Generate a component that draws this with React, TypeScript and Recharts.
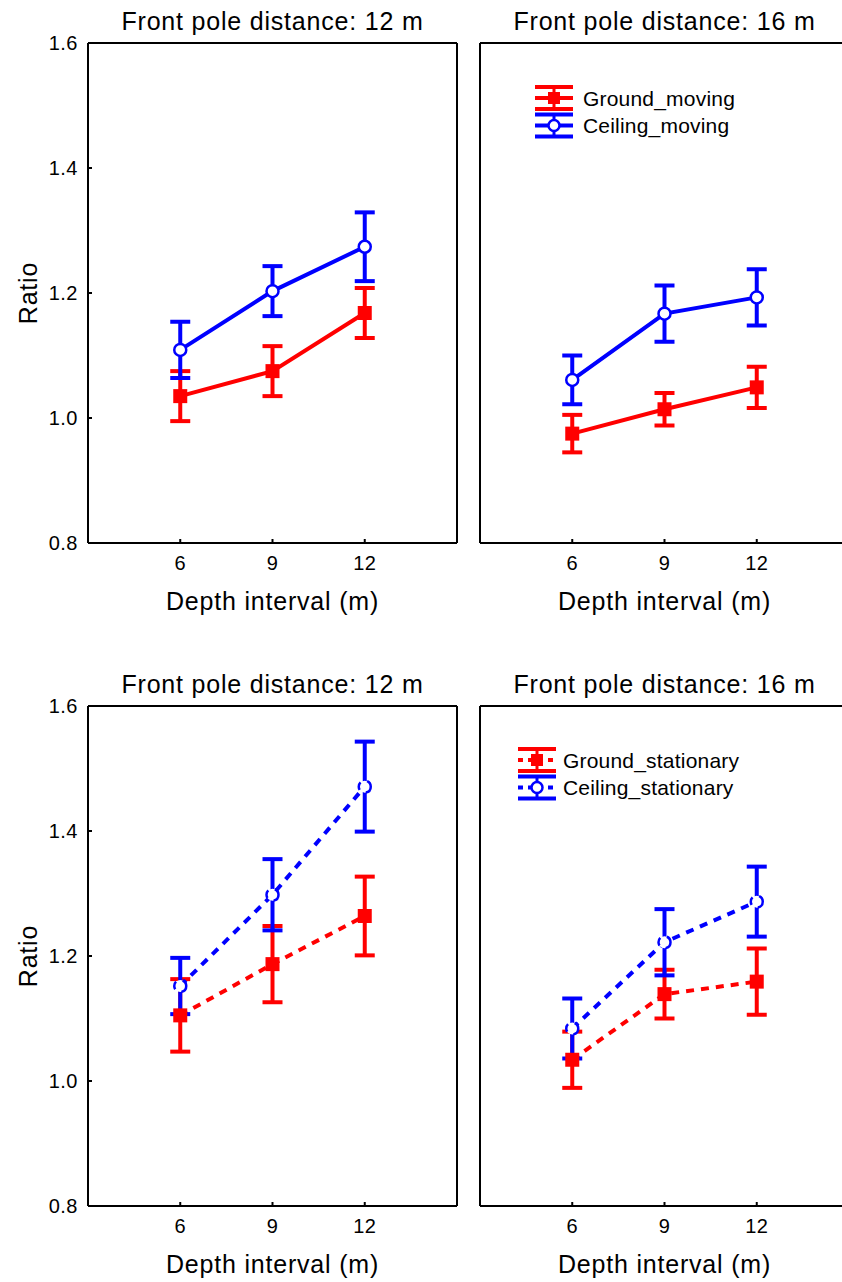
import React from "react";
import { ComposedChart, Line, XAxis, YAxis, ErrorBar, Legend } from "recharts";

const RED = "#ff0000";
const BLUE = "#0000ff";
const FONT = '"Liberation Sans", Arial, Helvetica, sans-serif';

// depth intervals (m)
const depths = [6, 9, 12];

// moving, front pole 12 m
const groundMoving12 = [1.035, 1.075, 1.168];
const groundMoving12Err = [0.04, 0.04, 0.04];
const ceilingMoving12 = [1.109, 1.203, 1.274];
const ceilingMoving12Err = [0.045, 0.04, 0.055];

// moving, front pole 16 m
const groundMoving16 = [0.975, 1.014, 1.049];
const groundMoving16Err = [0.03, 0.026, 0.033];
const ceilingMoving16 = [1.061, 1.167, 1.193];
const ceilingMoving16Err = [0.039, 0.045, 0.045];

// stationary, front pole 12 m
const groundStationary12 = [1.105, 1.187, 1.264];
const groundStationary12Err = [0.058, 0.061, 0.063];
const ceilingStationary12 = [1.152, 1.298, 1.471];
const ceilingStationary12Err = [0.045, 0.057, 0.072];

// stationary, front pole 16 m
const groundStationary16 = [1.034, 1.139, 1.159];
const groundStationary16Err = [0.045, 0.039, 0.053];
const ceilingStationary16 = [1.084, 1.222, 1.287];
const ceilingStationary16Err = [0.048, 0.053, 0.056];

const xTicks = [6, 9, 12];
const yTicks = [0.8, 1.0, 1.2, 1.4, 1.6];
const frameTicks = [1, 2, 3, 4, 5, 6, 7, 8];

const buildRows = (g: number[], ge: number[], c: number[], ce: number[]) =>
  depths.map((d, i) => ({ depth: d, ground: g[i], groundErr: ge[i], ceiling: c[i], ceilingErr: ce[i] }));

interface PanelDef {
  title: string;
  left: number;
  top: number;
  rows: ReturnType<typeof buildRows>;
  dashed: boolean;
  legend: boolean;
  labels: boolean;
  groundName: string;
  ceilingName: string;
}

const panels: PanelDef[] = [
  {
    title: "Front pole distance: 12 m", left: 88, top: 43,
    rows: buildRows(groundMoving12, groundMoving12Err, ceilingMoving12, ceilingMoving12Err),
    dashed: false, legend: false, labels: true, groundName: "Ground_moving", ceilingName: "Ceiling_moving",
  },
  {
    title: "Front pole distance: 16 m", left: 480, top: 43,
    rows: buildRows(groundMoving16, groundMoving16Err, ceilingMoving16, ceilingMoving16Err),
    dashed: false, legend: true, labels: false, groundName: "Ground_moving", ceilingName: "Ceiling_moving",
  },
  {
    title: "Front pole distance: 12 m", left: 88, top: 706,
    rows: buildRows(groundStationary12, groundStationary12Err, ceilingStationary12, ceilingStationary12Err),
    dashed: true, legend: false, labels: true, groundName: "Ground_stationary", ceilingName: "Ceiling_stationary",
  },
  {
    title: "Front pole distance: 16 m", left: 480, top: 706,
    rows: buildRows(groundStationary16, groundStationary16Err, ceilingStationary16, ceilingStationary16Err),
    dashed: true, legend: true, labels: false, groundName: "Ground_stationary", ceilingName: "Ceiling_stationary",
  },
];

const PLOT_W = 369;
const PLOT_H = 500;
const frameLine = { stroke: "#000", strokeWidth: 2 };
const tickFont = { fontSize: 20, fill: "#000", fontFamily: FONT, letterSpacing: 0.5 };

const SquareDot = (props: any) => {
  const { cx, cy, index } = props;
  if (cx == null || cy == null) return <g key={`sq-${index}`} />;
  return <rect key={`sq-${index}`} x={cx - 7} y={cy - 7} width={14} height={14} fill={RED} />;
};

// legend keeps the series order: ground first, ceiling second
function makeLegend(dashed: boolean, order: string[]) {
  return (props: any) => {
    const items = [...(props.payload || [])].sort(
      (a: any, b: any) => order.indexOf(String(a.value)) - order.indexOf(String(b.value))
    );
    return (
      <svg width={300} height={60} style={{ display: "block", overflow: "visible" }}>
        {items.map((entry: any, i: number) => {
          const cy = 15 + i * 27.5;
          const color = entry.color;
          const square = String(entry.value).startsWith("Ground");
          return (
            <g key={i}>
              <line x1={0} x2={38} y1={cy} y2={cy} stroke={color} strokeWidth={4} strokeDasharray={dashed ? "5 5" : undefined} />
              <line x1={19} x2={19} y1={cy - 11} y2={cy + 11} stroke={color} strokeWidth={3} />
              <line x1={0} x2={38} y1={cy - 11} y2={cy - 11} stroke={color} strokeWidth={4} />
              <line x1={0} x2={38} y1={cy + 11} y2={cy + 11} stroke={color} strokeWidth={4} />
              {square ? (
                <rect x={13} y={cy - 6} width={12} height={12} fill={color} />
              ) : (
                <circle cx={19} cy={cy} r={5.5} fill="#fff" stroke={color} strokeWidth={2.5} />
              )}
              <text x={dashed ? 45 : 48} y={cy + 7.5} fontSize={21} fontFamily={FONT} fill="#000" letterSpacing={0.2}>
                {entry.value}
              </text>
            </g>
          );
        })}
      </svg>
    );
  };
}

function Panel({ p }: { p: PanelDef }) {
  const dash = p.dashed ? "8 7" : undefined;
  const chartLeft = p.left - 88;
  const chartTop = p.top - 43;
  return (
    <div style={{ position: "absolute", left: chartLeft, top: chartTop }}>
      <ComposedChart
        width={470}
        height={590}
        data={p.rows}
        margin={{ top: 33, right: 470 - 88 - PLOT_W - 10, bottom: 590 - 43 - PLOT_H - 40, left: 28 }}
      >
        <XAxis
          xAxisId="b"
          dataKey="depth"
          type="number"
          domain={[3, 15]}
          ticks={xTicks}
          interval={0}
          orientation="bottom"
          height={40}
          axisLine={frameLine}
          tickLine={frameLine}
          tickSize={-4}
          tickMargin={17}
          tick={tickFont}
        />
        <XAxis
          xAxisId="t"
          dataKey="depth"
          type="number"
          domain={[3, 15]}
          ticks={xTicks}
          interval={0}
          orientation="top"
          height={10}
          axisLine={frameLine}
          tickLine={frameLine}
          tickSize={-4}
          tick={false}
        />
        <YAxis
          yAxisId="l"
          type="number"
          domain={[0.8, 1.6]}
          ticks={yTicks}
          interval={0}
          width={60}
          axisLine={frameLine}
          tickLine={frameLine}
          tickSize={-4}
          tickMargin={14}
          tick={p.labels ? tickFont : false}
          tickFormatter={(v) => Number(v).toFixed(1)}
        />
        <YAxis
          yAxisId="r"
          orientation="right"
          type="number"
          domain={[0, 9]}
          ticks={frameTicks}
          interval={0}
          width={10}
          axisLine={frameLine}
          tickLine={frameLine}
          tickSize={-4}
          tick={false}
        />
        <Line
          xAxisId="b"
          yAxisId="l"
          type="linear"
          dataKey="ground"
          name={p.groundName}
          stroke={RED}
          strokeWidth={4}
          strokeDasharray={dash}
          dot={SquareDot}
          activeDot={false}
          isAnimationActive={false}
        >
          <ErrorBar dataKey="groundErr" width={10} strokeWidth={4} stroke={RED} direction="y" isAnimationActive={false} />
        </Line>
        <Line
          xAxisId="b"
          yAxisId="l"
          type="linear"
          dataKey="ceiling"
          name={p.ceilingName}
          stroke={BLUE}
          strokeWidth={4}
          strokeDasharray={dash}
          dot={{ r: 6, fill: "#fff", stroke: BLUE, strokeWidth: 2.5 }}
          activeDot={false}
          isAnimationActive={false}
        >
          <ErrorBar dataKey="ceilingErr" width={10} strokeWidth={4} stroke={BLUE} direction="y" isAnimationActive={false} />
        </Line>
        {p.legend && (
          <Legend
            layout="horizontal"
            verticalAlign="middle"
            align="center"
            content={makeLegend(p.dashed, [p.groundName, p.ceilingName])}
            wrapperStyle={
              p.dashed
                ? { top: 760 - 663 - 15, left: 518 - 392, width: 300, height: 60 }
                : { top: 98 - 15, left: 535 - 392, width: 300, height: 60 }
            }
          />
        )}
      </ComposedChart>
    </div>
  );
}

const textStyle = { fontFamily: FONT, fontSize: 25, fill: "#000", letterSpacing: 0.8 };

export default function App() {
  return (
    <div
      style={{
        position: "absolute",
        left: 0,
        top: 0,
        width: 842,
        height: 1282,
        overflow: "hidden",
        background: "#fff",
        fontFamily: FONT,
      }}
    >
      {panels.map((p, i) => (
        <Panel key={i} p={p} />
      ))}
      <svg width={842} height={1282} style={{ position: "absolute", left: 0, top: 0, pointerEvents: "none" }}>
        {panels.map((p, i) => {
          const cx = p.left + PLOT_W / 2;
          return (
            <g key={i}>
              <text x={cx} y={p.top - 13} textAnchor="middle" {...textStyle}>
                {p.title}
              </text>
              <text x={cx} y={p.top + PLOT_H + 67} textAnchor="middle" {...textStyle}>
                Depth interval (m)
              </text>
              {p.labels && (
                <text
                  x={37}
                  y={p.top + PLOT_H / 2}
                  textAnchor="middle"
                  transform={`rotate(-90 37 ${p.top + PLOT_H / 2})`}
                  {...textStyle}
                >
                  Ratio
                </text>
              )}
            </g>
          );
        })}
      </svg>
    </div>
  );
}
